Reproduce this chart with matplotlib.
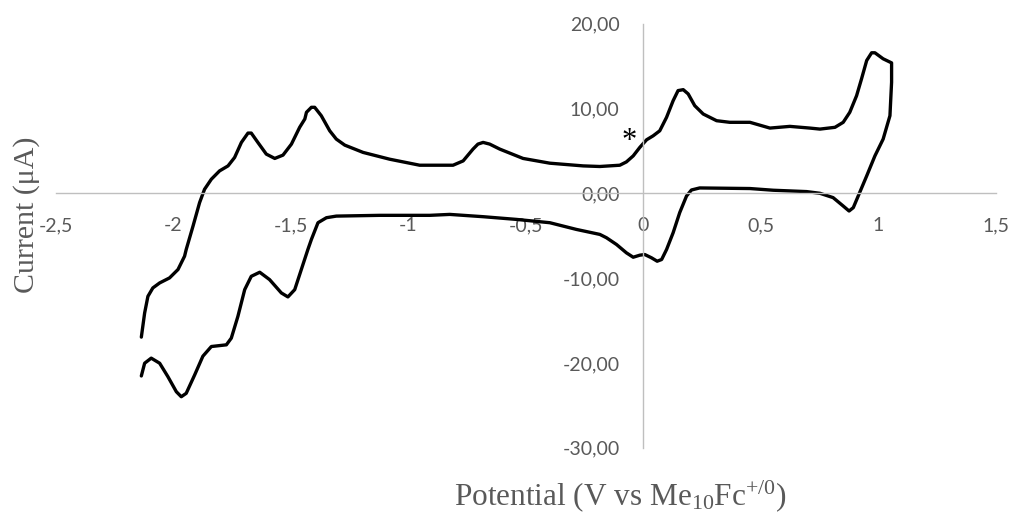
"""Cyclic voltammogram, Excel-style axes crossing at the origin."""

import matplotlib

matplotlib.use("Agg")
import matplotlib.pyplot as plt
from matplotlib.ticker import FixedLocator, FuncFormatter

# Forward (anodic) scan from -2.14 V up to the switching potential.
fwd_potential = [
    -2.137, -2.123, -2.109, -2.088, -2.059, -2.017, -1.981, -1.953, -1.946, -1.917,
    -1.889, -1.868, -1.839, -1.804, -1.768, -1.740, -1.711, -1.683, -1.669, -1.641,
    -1.605, -1.569, -1.534, -1.498, -1.463, -1.441, -1.434, -1.413, -1.399, -1.371,
    -1.335, -1.307, -1.271, -1.193, -1.080, -0.952, -0.810, -0.767, -0.725, -0.704,
    -0.682, -0.654, -0.611, -0.512, -0.398, -0.256, -0.185, -0.100, -0.072, -0.043,
    -0.015, 0.014, 0.042, 0.070, 0.099, 0.127, 0.148, 0.170, 0.191, 0.219,
    0.255, 0.312, 0.368, 0.454, 0.539, 0.624, 0.709, 0.752, 0.816, 0.851,
    0.879, 0.908, 0.929, 0.951, 0.972, 0.986, 1.021, 1.057,
]
fwd_current = [
    -16.96, -14.12, -12.15, -11.16, -10.57, -9.98, -8.99, -7.42, -6.63, -3.87,
    -1.10, 0.47, 1.66, 2.64, 3.23, 4.22, 6.00, 7.10, 7.10, 6.00,
    4.62, 4.11, 4.50, 5.80, 7.78, 8.76, 9.55, 10.14, 10.14, 9.15,
    7.37, 6.39, 5.68, 4.82, 4.02, 3.31, 3.31, 3.82, 5.21, 5.80,
    6.00, 5.80, 5.21, 4.11, 3.55, 3.23, 3.16, 3.31, 3.70, 4.41,
    5.41, 6.31, 6.78, 7.37, 8.96, 10.92, 12.11, 12.22, 11.72, 10.33,
    9.35, 8.56, 8.37, 8.37, 7.69, 7.89, 7.69, 7.57, 7.78, 8.37,
    9.55, 11.51, 13.49, 15.66, 16.57, 16.57, 15.86, 15.38,
]
# Reverse (cathodic) scan back to -2.14 V.
rev_potential = [
    1.057, 1.050, 1.021, 0.986, 0.951, 0.915, 0.894, 0.876, 0.851, 0.808,
    0.752, 0.695, 0.553, 0.454, 0.240, 0.205, 0.184, 0.155, 0.127, 0.099,
    0.078, 0.059, 0.035, 0.006, -0.015, -0.043, -0.072, -0.114, -0.157, -0.185,
    -0.285, -0.398, -0.540, -0.682, -0.824, -0.909, -1.122, -1.307, -1.349, -1.385,
    -1.413, -1.428, -1.456, -1.484, -1.513, -1.541, -1.591, -1.633, -1.669, -1.697,
    -1.726, -1.754, -1.775, -1.839, -1.875, -1.910, -1.946, -1.967, -1.988, -2.024,
    -2.059, -2.095, -2.123, -2.137,
]
rev_current = [
    13.10, 9.15, 6.39, 4.41, 2.05, -0.32, -1.69, -2.09, -1.50, -0.51,
    0.00, 0.20, 0.36, 0.56, 0.63, 0.39, -0.32, -2.28, -4.65, -6.63,
    -7.81, -8.01, -7.61, -7.22, -7.30, -7.54, -7.02, -6.04, -5.24, -4.85,
    -4.26, -3.47, -3.08, -2.76, -2.49, -2.60, -2.60, -2.69, -2.88, -3.47,
    -5.44, -6.63, -8.99, -11.36, -12.22, -11.75, -10.18, -9.31, -9.79, -11.36,
    -14.52, -17.08, -17.87, -18.07, -19.21, -21.42, -23.59, -23.99, -23.40, -21.62,
    -20.04, -19.44, -20.04, -21.54,
]

x_ticks = [-2.5, -2.0, -1.5, -1.0, -0.5, 0.0, 0.5, 1.0, 1.5]
y_ticks = [-30, -20, -10, 0, 10, 20]
marker_pos = (-0.062, 6.1)  # the "*" shoulder annotation

plt.rcParams["font.family"] = ["Lato", "DejaVu Sans"]
plt.rcParams["mathtext.fontset"] = "custom"
plt.rcParams["mathtext.rm"] = "Liberation Serif"

fig = plt.figure(figsize=(10.14, 5.15), dpi=100)
ax = fig.add_axes([0.0553, 0.1307, 0.9266, 0.8233])

ax.plot(fwd_potential + rev_potential, fwd_current + rev_current,
        color="black", linewidth=2.4,
        solid_joinstyle="round", solid_capstyle="round")

ax.set_xlim(-2.5, 1.5)
ax.set_ylim(-30, 20)

axis_grey = "#bfbfbf"
for side in ("top", "right"):
    ax.spines[side].set_visible(False)
for side in ("left", "bottom"):
    ax.spines[side].set_position(("data", 0))
    ax.spines[side].set_color(axis_grey)
    ax.spines[side].set_linewidth(1.0)

ax.xaxis.set_major_locator(FixedLocator(x_ticks))
ax.yaxis.set_major_locator(FixedLocator(y_ticks))
ax.xaxis.set_major_formatter(FuncFormatter(lambda v, _: f"{v:g}".replace(".", ",")))
ax.yaxis.set_major_formatter(FuncFormatter(lambda v, _: f"{v:.2f}".replace(".", ",")))
ax.tick_params(axis="x", length=0, pad=17, labelsize=14, labelcolor="#595959")
ax.tick_params(axis="y", length=0, pad=17, labelsize=14, labelcolor="#595959")

ax.text(*marker_pos, "*", fontsize=22, family="Liberation Serif",
        ha="center", va="center", color="black")

fig.text(27 / 1014, 1 - 215 / 515, "Current (μA)", rotation=90,
         family="Liberation Serif", fontsize=21.5, color="#595959",
         ha="center", va="center")
fig.text(620 / 1014, 1 - 505 / 515,
         r"Potential (V vs Me$\mathregular{_{10}}$Fc$\mathregular{^{+/0}}$)",
         family="Liberation Serif", fontsize=22.5, color="#595959",
         ha="center", va="baseline")

fig.savefig("out.png", dpi=100)
plt.close(fig)
